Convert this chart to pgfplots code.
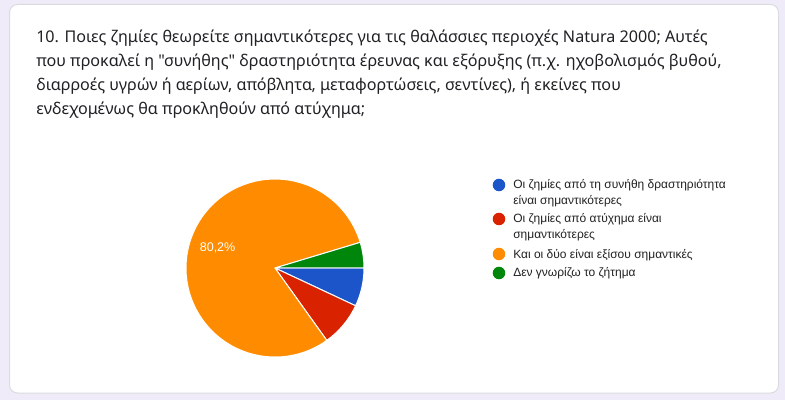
\documentclass[border=0pt]{standalone}
\usepackage{pgfplots}
\pgfplotsset{compat=1.18}
\usepackage{pgfplotstable}
\usetikzlibrary{calc}
\usepackage{fontspec}
\setmainfont{Noto Sans}
\newfontfamily\titlefont{Noto Sans}
\newfontfamily\legfont{Liberation Sans}
\definecolor{bgl}{HTML}{F0EBF8}
\definecolor{cardedge}{HTML}{DADCE0}
\definecolor{txt}{HTML}{202124}
\definecolor{legtxt}{HTML}{222222}
\definecolor{pieblue}{HTML}{1B55C9}
\definecolor{piered}{HTML}{D92300}
\definecolor{pieorange}{HTML}{FF8C00}
\definecolor{piegreen}{HTML}{00870B}
\pgfplotstableread{
count
6
7
69
4
}\piedata
\begin{document}
\begin{tikzpicture}
\pgfplotstablegetelem{0}{count}\of\piedata \pgfmathsetmacro\cA{\pgfplotsretval}
\pgfplotstablegetelem{1}{count}\of\piedata \pgfmathsetmacro\cB{\pgfplotsretval}
\pgfplotstablegetelem{2}{count}\of\piedata \pgfmathsetmacro\cC{\pgfplotsretval}
\pgfplotstablegetelem{3}{count}\of\piedata \pgfmathsetmacro\cD{\pgfplotsretval}
\pgfmathsetmacro\tot{\cA+\cB+\cC+\cD}
\pgfmathsetmacro\aA{0}
\pgfmathsetmacro\aB{-360*(\cA/\tot)}
\pgfmathsetmacro\aC{-360*((\cA+\cB)/\tot)}
\pgfmathsetmacro\aD{-360*((\cA+\cB+\cC)/\tot)}
\pgfmathsetmacro\aE{-360}
\pgfmathsetmacro\amid{(\aC+\aD)/2}
\pgfmathsetmacro\pctC{100*(\cC/\tot)}
\begin{axis}[
  x=0.75pt, y=0.75pt,
  xmin=0, xmax=785, ymin=0, ymax=400,
  scale only axis, hide axis, clip=false,
]
% background and card
\fill[bgl] (axis cs:0,0) rectangle (axis cs:785,400);
\draw[cardedge, fill=white, rounded corners=6pt, line width=0.75pt] (axis cs:9.5,7) rectangle (axis cs:778.5,395.5);
% title
\begin{scope}[every node/.style={anchor=base west, inner sep=0pt, text=txt, font=\titlefont\fontsize{12.1pt}{14pt}\selectfont}]
\node at (axis cs:36,357) {10. Ποιες ζημίες θεωρείτε σημαντικότερες για τις θαλάσσιες περιοχές Natura 2000; Αυτές};
\node at (axis cs:36,333) {που προκαλεί η "συνήθης" δραστηριότητα έρευνας και εξόρυξης (π.χ. ηχοβολισμός βυθού,};
\node at (axis cs:36,309) {διαρροές υγρών ή αερίων, απόβλητα, μεταφορτώσεις, σεντίνες), ή εκείνες που};
\node at (axis cs:36,285) {ενδεχομένως θα προκληθούν από ατύχημα;};
\end{scope}
% pie slices
\filldraw[pieblue, draw=white, line width=0.75pt, line join=round] (axis cs:275,132) -- ++(\aA:66.75pt) arc[start angle=\aA, end angle=\aB, radius=66.75pt] -- cycle;
\filldraw[piered, draw=white, line width=0.75pt, line join=round] (axis cs:275,132) -- ++(\aB:66.75pt) arc[start angle=\aB, end angle=\aC, radius=66.75pt] -- cycle;
\filldraw[pieorange, draw=white, line width=0.75pt, line join=round] (axis cs:275,132) -- ++(\aC:66.75pt) arc[start angle=\aC, end angle=\aD, radius=66.75pt] -- cycle;
\filldraw[piegreen, draw=white, line width=0.75pt, line join=round] (axis cs:275,132) -- ++(\aD:66.75pt) arc[start angle=\aD, end angle=\aE, radius=66.75pt] -- cycle;
\node[text=white, font=\legfont\fontsize{9.4pt}{11pt}\selectfont, inner sep=0pt] at ($(axis cs:275,132)+(\amid:45.5pt)$) {\pgfmathprintnumber[fixed, precision=1, use comma, assume math mode=true]{\pctC}\%};
% legend
\fill[pieblue] (axis cs:499,215) circle[radius=4.7pt];
\fill[piered] (axis cs:499,181) circle[radius=4.7pt];
\fill[pieorange] (axis cs:499,146) circle[radius=4.7pt];
\fill[piegreen] (axis cs:499,127) circle[radius=4.7pt];
\begin{scope}[every node/.style={anchor=base west, inner sep=0pt, text=legtxt, font=\legfont\fontsize{9pt}{11pt}\selectfont}]
\node at (axis cs:513,211) {Οι ζημίες από τη συνήθη δραστηριότητα};
\node at (axis cs:513,195.5) {είναι σημαντικότερες};
\node at (axis cs:513,177) {Οι ζημίες από ατύχημα είναι};
\node at (axis cs:513,161) {σημαντικότερες};
\node at (axis cs:513,142) {Και οι δύο είναι εξίσου σημαντικές};
\node at (axis cs:513,123) {Δεν γνωρίζω το ζήτημα};
\end{scope}
\end{axis}
\end{tikzpicture}
\end{document}
